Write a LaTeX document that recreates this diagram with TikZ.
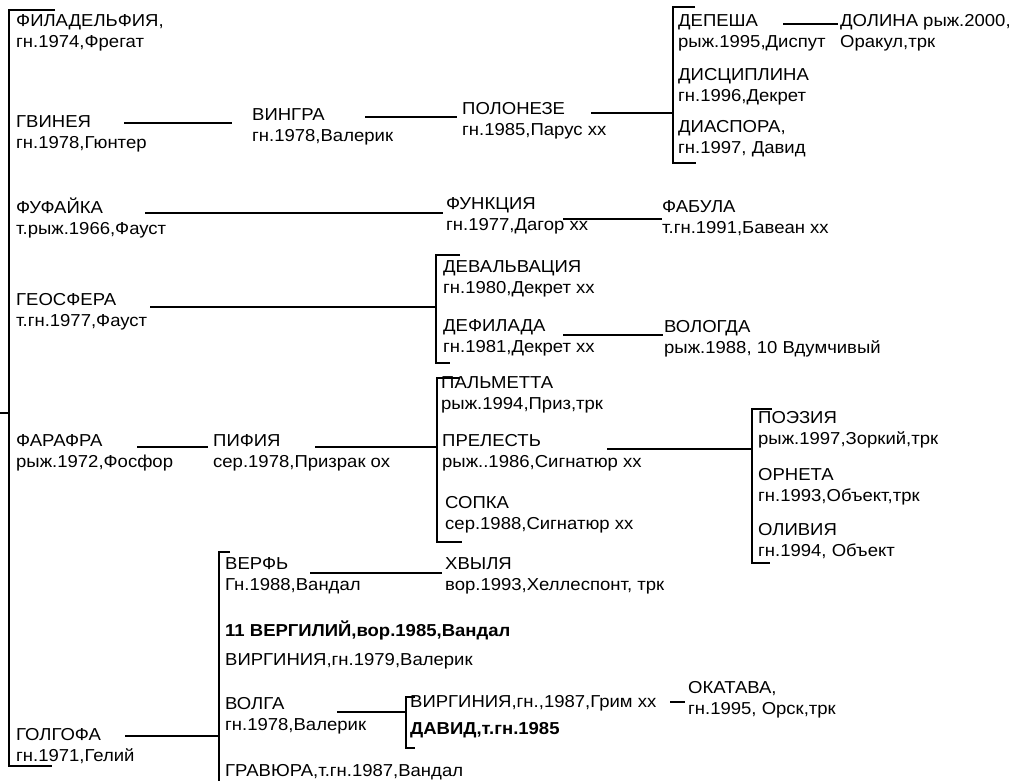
\documentclass[tikz,border=0pt]{standalone}
\usepackage{fontspec}
\setmainfont{Liberation Sans}[FakeStretch=1.07]
\begin{document}
\begin{tikzpicture}[x=1pt,y=-1pt,
  entry/.style={anchor=north west,inner sep=0pt,align=left,yshift=14.7pt,
    font=\fontsize{17.3}{21}\selectfont,execute at begin node=\strut},
  link/.style={line width=1.8pt},
  brk/.style={line width=2.4pt}]
\useasboundingbox (0,0) rectangle (1013,781);

% скобки
\draw[brk] (55,10) -| (9,766) -- (52,766);
\draw[brk] (695,7) -| (673,163) -- (696,163);
\draw[brk] (460,255) -| (436,363) -- (450,363);
\draw[brk] (460,378) -| (437,542) -- (462,542);
\draw[brk] (772,409) -| (752,563) -- (770,563);
\draw[brk] (230,552) -| (219,781);
\draw[brk] (415,697) -| (406,748) -- (415,748);
\coordinate (root) at (0,413);
\coordinate (spine) at (9,413);
\coordinate (bD) at (673,113);
\coordinate (bE) at (436,309);
\coordinate (bP) at (437,448);
\coordinate (bQ) at (752,450);
\coordinate (bV) at (219,736);
\coordinate (bW) at (406,712);

% первый ряд
\node[entry] (fila) at (16,29) {ФИЛАДЕЛЬФИЯ,\\гн.1974,Фрегат};
\node[entry] (gvin) at (16,130) {ГВИНЕЯ\\гн.1978,Гюнтер};
\node[entry] (fufa) at (16,212) {ФУФАЙКА\\т.рыж.1966,Фауст};
\node[entry] (geos) at (16,308) {ГЕОСФЕРА\\т.гн.1977,Фауст};
\node[entry] (farafra) at (16,449) {ФАРАФРА\\рыж.1972,Фосфор};
\node[entry] (golg) at (16,743) {ГОЛГОФА\\гн.1971,Гелий};

\node[entry] (vingra) at (252,123) {ВИНГРА\\гн.1978,Валерик};
\node[entry] (polon) at (462,117) {ПОЛОНЕЗЕ\\гн.1985,Парус хх};
\node[entry] (depesha) at (678,29) {ДЕПЕША\\рыж.1995,Диспут};
\node[entry] (dolina) at (840,29) {ДОЛИНА рыж.2000,\\Оракул,трк};
\node[entry] (discipl) at (678,83) {ДИСЦИПЛИНА\\гн.1996,Декрет};
\node[entry] (diaspora) at (678,135) {ДИАСПОРА,\\гн.1997, Давид};

\node[entry] (funk) at (446,212) {ФУНКЦИЯ\\гн.1977,Дагор хх};
\node[entry] (fabula) at (662,215) {ФАБУЛА\\т.гн.1991,Бавеан хх};

\node[entry] (deval) at (443,275) {ДЕВАЛЬВАЦИЯ\\гн.1980,Декрет хх};
\node[entry] (defil) at (443,334) {ДЕФИЛАДА\\гн.1981,Декрет хх};
\node[entry] (vologda) at (664,335) {ВОЛОГДА\\рыж.1988, 10 Вдумчивый};

\node[entry] (pifia) at (213,449) {ПИФИЯ\\сер.1978,Призрак ох};
\node[entry] (palm) at (441,391) {ПАЛЬМЕТТА\\рыж.1994,Приз,трк};
\node[entry] (prel) at (442,449) {ПРЕЛЕСТЬ\\рыж..1986,Сигнатюр хх};
\node[entry] (sopka) at (445,511) {СОПКА\\сер.1988,Сигнатюр хх};
\node[entry] (poez) at (758,426) {ПОЭЗИЯ\\рыж.1997,Зоркий,трк};
\node[entry] (orneta) at (758,483) {ОРНЕТА\\гн.1993,Объект,трк};
\node[entry] (olivia) at (758,538) {ОЛИВИЯ\\гн.1994, Объект};

\node[entry] (verf) at (225,572) {ВЕРФЬ\\Гн.1988,Вандал};
\node[entry] (khvylya) at (445,572) {ХВЫЛЯ\\вор.1993,Хеллеспонт, трк};
\node[entry] (vergil) at (225,635) {\bfseries 11 ВЕРГИЛИЙ,вор.1985,Вандал};
\node[entry] (virg1) at (225,665) {ВИРГИНИЯ,гн.1979,Валерик};
\node[entry] (volga) at (225,712) {ВОЛГА\\гн.1978,Валерик};
\node[entry] (virg2) at (410,707) {ВИРГИНИЯ,гн.,1987,Грим хх};
\node[entry] (david) at (410,734) {\bfseries ДАВИД,т.гн.1985};
\node[entry] (okatava) at (688,696) {ОКАТАВА,\\гн.1995, Орск,трк};
\node[entry] (gravyura) at (225,776) {ГРАВЮРА,т.гн.1987,Вандал};

% линии
\draw[link] (root) -- (spine);
\draw[link] (gvin.north west) ++(108,7.7) coordinate (s) -- ([xshift=-20pt]s -| vingra.west);
\draw[link] (vingra.north west) ++(113,8.7) coordinate (s) -- ([xshift=-5pt]s -| polon.west);
\draw[link] (polon.north west) ++(129,10.7) coordinate (s) -- (s -| bD);
\draw[link] (depesha.north west) ++(105,9.7) coordinate (s) -- ([xshift=-2pt]s -| dolina.west);
\draw[link] (fufa.north west) ++(129,15.7) coordinate (s) -- ([xshift=-3pt]s -| funk.west);
\draw[link] (funk.north west) ++(117,21.7) coordinate (s) -- (s -| fabula.west);
\draw[link] (geos.north west) ++(134,13.7) coordinate (s) -- (s -| bE);
\draw[link] (defil.north west) ++(120,15.7) coordinate (s) -- ([xshift=-1pt]s -| vologda.west);
\draw[link] (farafra.north west) ++(121,12.7) coordinate (s) -- ([xshift=-5pt]s -| pifia.west);
\draw[link] (pifia.north west) ++(102,12.7) coordinate (s) -- (s -| bP);
\draw[link] (prel.north west) ++(165,14.7) coordinate (s) -- (s -| bQ);
\draw[link] (verf.north west) ++(85,15.7) coordinate (s) -- ([xshift=-3pt]s -| khvylya.west);
\draw[link] (volga.north west) ++(112,14.7) coordinate (s) -- (s -| bW);
\draw[link] (virg2.north west) ++(260,9.7) coordinate (s) -- ([xshift=-3pt]s -| okatava.west);
\draw[link] (golg.north west) ++(109,7.7) coordinate (s) -- (s -| bV);
\end{tikzpicture}
\end{document}
